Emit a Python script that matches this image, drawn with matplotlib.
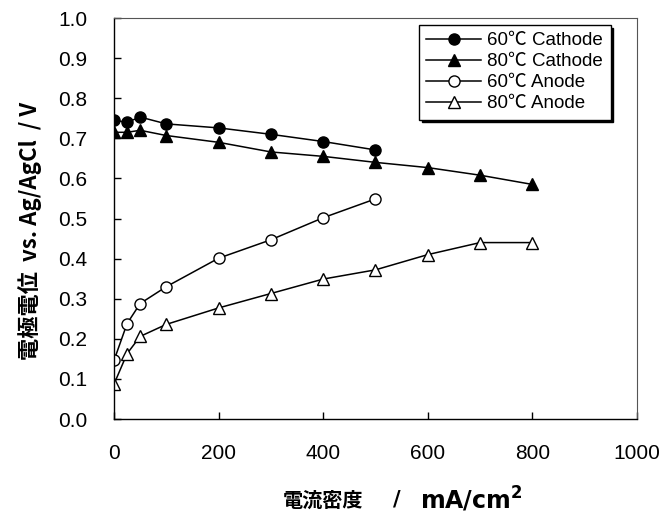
import matplotlib
matplotlib.use('Agg')
import matplotlib.pyplot as plt

plt.rcParams['font.family'] = ['Liberation Sans', 'Noto Sans CJK JP', 'DejaVu Sans']

# current density (mA/cm2)
x_cath60 = [0, 25, 50, 100, 200, 300, 400, 500]
y_cath60 = [0.745, 0.74, 0.753, 0.736, 0.726, 0.71, 0.692, 0.671]
x_cath80 = [0, 25, 50, 100, 200, 300, 400, 500, 600, 700, 800]
y_cath80 = [0.715, 0.715, 0.72, 0.707, 0.69, 0.666, 0.655, 0.64, 0.627, 0.608, 0.585]
x_an60 = [0, 25, 50, 100, 200, 300, 400, 500]
y_an60 = [0.146, 0.238, 0.288, 0.33, 0.401, 0.447, 0.502, 0.549]
x_an80 = [0, 25, 50, 100, 200, 300, 400, 500, 600, 700, 800]
y_an80 = [0.087, 0.163, 0.206, 0.236, 0.277, 0.313, 0.349, 0.372, 0.41, 0.44, 0.44]

labels = ['60℃ Cathode', '80℃ Cathode', '60℃ Anode', '80℃ Anode']
xticks = [0, 200, 400, 600, 800, 1000]
yticks = [0.0, 0.1, 0.2, 0.3, 0.4, 0.5, 0.6, 0.7, 0.8, 0.9, 1.0]

fig = plt.figure(figsize=(6.59, 5.30), dpi=100)
ax = fig.add_axes([0.173, 0.2094, 0.7936, 0.7566])

line = dict(color='black', lw=1.1, mec='black', mew=1.0)
ax.plot(x_cath60, y_cath60, marker='o', ms=8, mfc='black', label=labels[0], **line)
ax.plot(x_cath80, y_cath80, marker='^', ms=9, mfc='black', label=labels[1], **line)
ax.plot(x_an60, y_an60, marker='o', ms=8, mfc='white', label=labels[2], **line)
ax.plot(x_an80, y_an80, marker='^', ms=9, mfc='white', label=labels[3], **line)

ax.set_xlim(0, 1000)
ax.set_ylim(0, 1.0)
ax.set_xticks(xticks)
ax.set_yticks(yticks)
ax.set_xticklabels([str(t) for t in xticks])
ax.set_yticklabels(['%.1f' % t for t in yticks])
ax.tick_params(direction='in', length=5, width=1, labelsize=15, colors='black')
ax.tick_params(axis='x', pad=18)
ax.tick_params(axis='y', pad=19)
for s in ['left', 'bottom']:
    ax.spines[s].set_linewidth(1.0)
for s in ['top', 'right']:
    ax.spines[s].set_color('#555555')
    ax.spines[s].set_linewidth(0.8)

ax.set_ylabel('電極電位  vs. Ag/AgCl  / V', fontsize=16, fontweight='bold',
              family=['Noto Sans CJK JP', 'DejaVu Sans'])
ax.yaxis.set_label_coords(-0.138, 0.47)

# x label drawn in pieces to copy the wide spacing of the original
cjk = ['Noto Sans CJK JP', 'DejaVu Sans']
fig.text(323 / 659, 0.057, '電流密度', fontsize=14.5, fontweight='bold',
         family=cjk, ha='center', va='center')
fig.text(397 / 659, 0.057, '/', fontsize=15, fontweight='bold',
         family=['DejaVu Sans'], ha='center', va='center')
fig.text(420 / 659, 0.057, 'mA/cm$^\\mathregular{2}$', fontsize=17,
         fontweight='bold', family=['DejaVu Sans'], ha='left', va='center')

leg = ax.legend(loc='upper left', bbox_to_anchor=(0.583, 0.983), frameon=True,
                fancybox=False, shadow={'color': 'black', 'alpha': 1.0},
                fontsize=13.5, handlelength=2.9, handletextpad=0.35,
                borderpad=0.4, labelspacing=0.2, borderaxespad=0)
leg.get_frame().set_edgecolor('black')
leg.get_frame().set_linewidth(1.0)

fig.savefig('out.png', dpi=100)
